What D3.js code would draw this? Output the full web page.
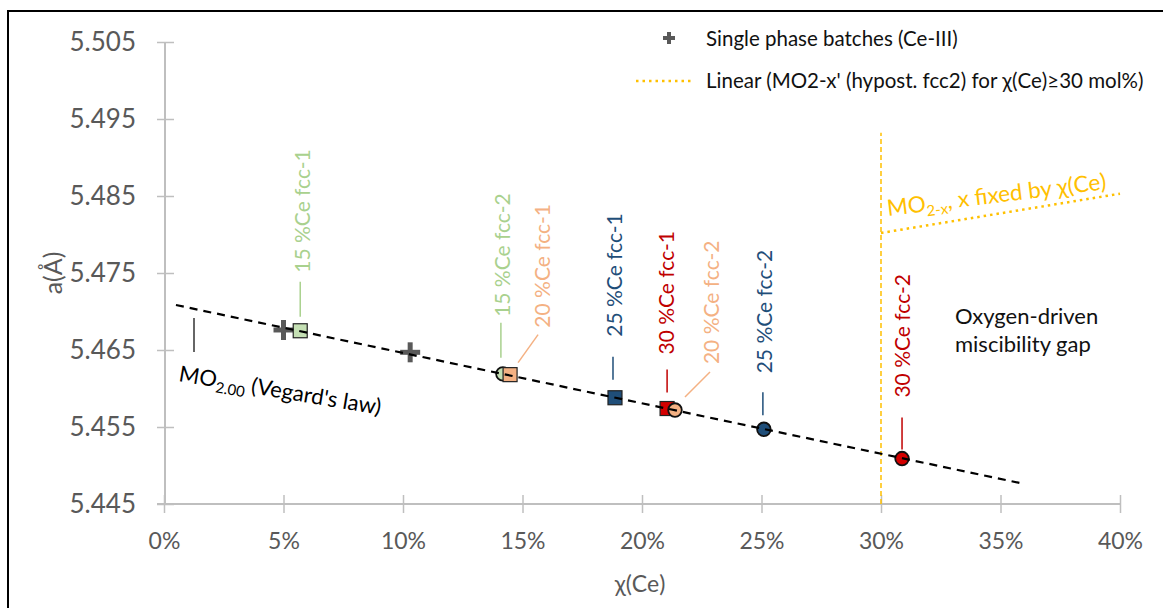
<!DOCTYPE html>
<html>
<head>
<meta charset="utf-8">
<script src="https://cdn.jsdelivr.net/npm/d3@7"></script>
<style>
  body { margin: 0; background: #fff; }
  svg { display: block; font-family: Lato, "Open Sans", sans-serif; }
  .axis path { stroke: #bfbfbf; stroke-width: 2; }
  .axis line { stroke: #bfbfbf; stroke-width: 1.5; }
  .axis text { fill: #595959; font-family: Lato, "Open Sans", sans-serif; }
</style>
</head>
<body>
<script>
// ---- data ----
var xTicks = [0, 5, 10, 15, 20, 25, 30, 35, 40];
var yTicks = [5.445, 5.455, 5.465, 5.475, 5.485, 5.495, 5.505];

// single phase batches (Ce-III): [x %, a]
var singleX = [5.0, 10.3];
var singleA = [5.4676, 5.4647];

// two-phase samples
var phaseNames = ["15 %Ce fcc-1", "15 %Ce fcc-2", "20 %Ce fcc-1", "25 %Ce fcc-1",
                  "30 %Ce fcc-1", "20 %Ce fcc-2", "25 %Ce fcc-2", "30 %Ce fcc-2"];
var phaseX = [5.7, 14.18, 14.48, 18.87, 21.05, 21.38, 25.1, 30.88];
var phaseA = [5.4675, 5.4619, 5.4618, 5.4588, 5.4574, 5.4572, 5.4547, 5.4509];
var phaseShape = ["square", "circle", "square", "square", "square", "circle", "circle", "circle"];
var phaseGroup = ["15", "15", "20", "25", "30", "20", "25", "30"];

// Vegard's law line (MO2.00)
var vegardX = [0.5, 35.8];
var vegardA = [5.47084, 5.44773];

// MO2-x line for x(Ce) >= 30 mol%
var fcc2X = [30, 40];
var fcc2A = [5.4802, 5.4853];
var gapX = [30, 30];
var gapA = [5.445, 5.4932];

// ---- layout ----
var W = 1163, H = 608;
var fills = { "15": "#c5e0b4", "20": "#f4b183", "25": "#1f4e79", "30": "#d40000" };
var labelColors = { "15": "#a9d18e", "20": "#f4b183", "25": "#1f4e79", "30": "#c00000" };
// leader line and label offsets (px) from each marker
var labelLayout = [
  [0, -14, 0, -49, 2, -58],
  [-2, -16, -2, -51, 0, -57],
  [8, -12, 28, -40, 33, -47],
  [-2, -18, -2, -41, 0, -61],
  [0, -16, 0, -39, 0, -54],
  [10, -13, 35, -38, 37, -46],
  [-1, -14, -1, -37, 1, -56],
  [0, -9, 0, -41, 1, -61]
];

var svg = d3.select("body").append("svg").attr("width", W).attr("height", H);

svg.append("rect")
  .attr("x", 8).attr("y", 11).attr("width", W + 20).attr("height", H + 20)
  .attr("fill", "none").attr("stroke", "#000").attr("stroke-width", 2);

var x = d3.scaleLinear().domain([0, 40]).range([164, 1120]);
var y = d3.scaleLinear().domain([5.445, 5.505]).range([504, 42]);

// axes
var gx = svg.append("g").attr("class", "axis")
  .attr("transform", "translate(0,504)")
  .call(d3.axisBottom(x).tickValues(xTicks).tickSize(9).tickPadding(20)
    .tickFormat(function (d) { return d + "%"; }));
gx.attr("font-family", null);
gx.select(".domain").attr("d", "M157,0H1120");
gx.selectAll(".tick line").attr("y1", -9).attr("y2", 9);
gx.selectAll(".tick text").attr("font-size", 23);

var gy = svg.append("g").attr("class", "axis")
  .attr("transform", "translate(165,0)")
  .call(d3.axisLeft(y).tickValues(yTicks).tickSize(9).tickPadding(20)
    .tickFormat(d3.format(".3f")));
gy.attr("font-family", null);
gy.select(".domain").attr("d", "M0,42V504");
gy.selectAll(".tick line").attr("x1", -8).attr("x2", 9);
gy.selectAll(".tick text").attr("font-size", 26);

svg.append("text").attr("x", 640).attr("y", 592).attr("text-anchor", "middle")
  .attr("font-size", 23).attr("fill", "#595959").text("χ(Ce)");
svg.append("text").attr("transform", "translate(62,273) rotate(-90)")
  .attr("text-anchor", "middle").attr("font-size", 25).attr("fill", "#595959").text("a(Å)");

// yellow gap lines
var line = d3.line().x(function (d) { return x(d[0]); }).y(function (d) { return y(d[1]); });
svg.append("path").datum(d3.zip(gapX, gapA)).attr("d", line)
  .attr("fill", "none").attr("stroke", "#ffc000").attr("stroke-width", 1.5)
  .attr("stroke-dasharray", "5,3");
svg.append("path").datum(d3.zip(fcc2X, fcc2A)).attr("d", line)
  .attr("fill", "none").attr("stroke", "#ffc000").attr("stroke-width", 2.5)
  .attr("stroke-dasharray", "2.5,4");

// plus markers
function plus(g, cx, cy, s, w) {
  g.append("line").attr("x1", cx - s).attr("x2", cx + s).attr("y1", cy).attr("y2", cy)
    .attr("stroke", "#595959").attr("stroke-width", w);
  g.append("line").attr("x1", cx).attr("x2", cx).attr("y1", cy - s).attr("y2", cy + s)
    .attr("stroke", "#595959").attr("stroke-width", w);
}
singleX.forEach(function (v, i) { plus(svg, x(v), y(singleA[i]), 10, 5); });

// phase markers, leaders, labels
phaseX.forEach(function (v, i) {
  var px = x(v), py = y(phaseA[i]);
  var g = phaseGroup[i];
  if (phaseShape[i] == "square") {
    svg.append("rect").attr("x", px - 7).attr("y", py - 7).attr("width", 14).attr("height", 14)
      .attr("fill", fills[g]).attr("stroke", "#222").attr("stroke-width", 1.2);
  } else {
    svg.append("circle").attr("cx", px).attr("cy", py).attr("r", 6.8)
      .attr("fill", fills[g]).attr("stroke", "#111").attr("stroke-width", 1.8);
  }
  var L = labelLayout[i];
  svg.append("line").attr("x1", px + L[0]).attr("y1", py + L[1])
    .attr("x2", px + L[2]).attr("y2", py + L[3])
    .attr("stroke", labelColors[g]).attr("stroke-width", 1.5);
  svg.append("text")
    .attr("transform", "translate(" + (px + L[4]) + "," + (py + L[5]) + ") rotate(-90)")
    .attr("dy", "0.35em").attr("font-size", 21).attr("fill", labelColors[g])
    .text(phaseNames[i]);
});

// Vegard line on top
svg.append("path").datum(d3.zip(vegardX, vegardA)).attr("d", line)
  .attr("fill", "none").attr("stroke", "#000").attr("stroke-width", 2.2)
  .attr("stroke-dasharray", "8,6");

// annotations
svg.append("line").attr("x1", 194).attr("x2", 194).attr("y1", 318).attr("y2", 352)
  .attr("stroke", "#333").attr("stroke-width", 1.5);
var veg = svg.append("text").attr("transform", "translate(178,381) rotate(9.5)")
  .attr("font-size", 22).attr("fill", "#000");
veg.append("tspan").text("MO");
veg.append("tspan").attr("font-size", 15).attr("dy", 5).text("2.00");
veg.append("tspan").attr("dy", -5).text(" (Vegard's law)");

var mo = svg.append("text").attr("transform", "translate(888,216) rotate(-7)")
  .attr("font-size", 22.5).attr("fill", "#ffc000");
mo.append("tspan").text("MO");
mo.append("tspan").attr("font-size", 15).attr("dy", 5).text("2-x");
mo.append("tspan").attr("dy", -5).text(", x fixed by χ(Ce)");

svg.append("text").attr("x", 955).attr("y", 324).attr("font-size", 22).attr("fill", "#111")
  .text("Oxygen-driven");
svg.append("text").attr("x", 955).attr("y", 352).attr("font-size", 22).attr("fill", "#111")
  .text("miscibility gap");

// legend
plus(svg, 669, 38, 6, 4);
svg.append("text").attr("x", 706).attr("y", 46).attr("font-size", 20.5).attr("fill", "#111")
  .text("Single phase batches (Ce-III)");
svg.append("line").attr("x1", 636).attr("x2", 692).attr("y1", 81).attr("y2", 81)
  .attr("stroke", "#ffc000").attr("stroke-width", 2.5).attr("stroke-dasharray", "2.5,4");
svg.append("text").attr("x", 706).attr("y", 88).attr("font-size", 20.5).attr("fill", "#111")
  .text("Linear (MO2-x' (hypost. fcc2) for χ(Ce)≥30 mol%)");
</script>
</body>
</html>
